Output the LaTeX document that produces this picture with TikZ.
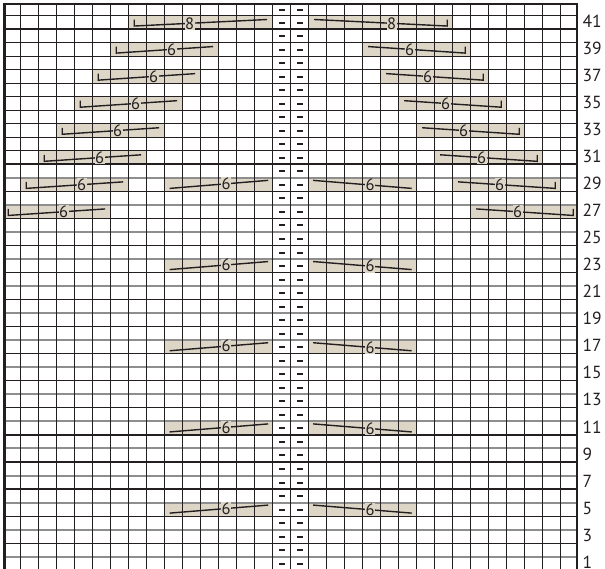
\documentclass[tikz,border=0pt]{standalone}
\usepackage{fontspec}
\setmainfont{PT Sans}
\definecolor{bar}{HTML}{DDD6C7}
\definecolor{gline}{HTML}{8E8E8E}
\definecolor{ink}{HTML}{231F20}
\begin{document}
\begin{tikzpicture}[x=1pt,y=-1pt,
  stitch/.style={draw=ink,line width=1.4pt,line cap=butt,line join=miter},
  numlab/.style={font=\fontsize{16.5}{16.5}\selectfont,fill=bar,inner sep=0.4pt,text=ink},
  rowlab/.style={font=\fontsize{17.5}{17.5}\selectfont,anchor=west,text=ink,inner sep=0pt},
  gridblk/.style={draw=ink,line width=1.15pt},
  gridgray/.style={draw=gline,line width=2pt},
  gridthick/.style={draw=ink,line width=2.2pt},
  border/.style={draw=ink,line width=2.4pt},
  purl/.style={fill=ink,draw=none}]
\useasboundingbox (0,0) rectangle (605,568);
\begin{scope}
\clip (0,0) rectangle (605,568);
% ---- bar fills
\foreach \r/\a/\b in {41/-9/-1,39/-10/-4,37/-11/-5,35/-12/-6,33/-13/-7,31/-14/-8,29/-15/-9,27/-16/-10,
                      41/1/9,39/4/10,37/5/11,35/6/12,33/7/13,31/8/14,29/9/15,27/10/16,
                      29/-7/-1,23/-7/-1,17/-7/-1,11/-7/-1,5/-7/-1,
                      29/1/7,23/1/7,17/1/7,11/1/7,5/1/7}{
  \pgfmathsetmacro\T{15.5+(41-\r)*13.53}
  \pgfmathsetmacro\B{\T+13.53}
  \pgfmathsetmacro\L{max(4.5,290.7+18*\a)}
  \pgfmathsetmacro\R{min(577,290.7+18*\b)}
  \fill[bar] (\L,\T) rectangle (\R,\B);
}
% ---- horizontal grid lines
\foreach \r in {1,...,41}{
  \pgfmathsetmacro\T{15.5+(41-\r)*13.53}
  \pgfmathtruncatemacro\isgray{(mod(\r,2)==1 && \r<30) ? 1 : 0}
  \ifnum\isgray=1
    \draw[gridgray] (4.5,\T) -- (577,\T);
  \else
    \draw[gridblk] (4.5,\T) -- (577,\T);
  \fi
}
\draw[gridthick] (4.5,29.03) -- (577,29.03);
\draw[gridthick] (4.5,164.3) -- (577,164.3);
% ---- vertical grid lines
\foreach \k in {-15,...,15}{
  \draw[gridblk] (290.7+18*\k,4) -- (290.7+18*\k,575);
}
% ---- borders
\draw[border] (4.5,3) -- (4.5,575);
\draw[border] (577,3) -- (577,575);
\draw[border] (3.3,4) -- (578.2,4);
% ---- purl dashes in the two centre columns
\foreach \r in {1,...,41}{
  \pgfmathsetmacro\C{15.5+(41-\r)*13.53+7}
  \fill[purl] (279.2,\C-1) rectangle (285,\C+1);
  \fill[purl] (297.2,\C-1) rectangle (303,\C+1);
}
\fill[purl] (279.2,8.5) rectangle (285,10.5);
\fill[purl] (297.2,8.5) rectangle (303,10.5);
% ---- left outer decreases (tick at left)
\foreach \r/\a/\b/\n in {41/-9/-1/8,39/-10/-4/6,37/-11/-5/6,35/-12/-6/6,33/-13/-7/6,31/-14/-8/6,29/-15/-9/6,27/-16/-10/6}{
  \pgfmathsetmacro\T{15.5+(41-\r)*13.53}
  \pgfmathsetmacro\B{\T+13.53}
  \pgfmathsetmacro\L{290.7+18*\a}
  \pgfmathsetmacro\R{290.7+18*\b}
  \pgfmathsetmacro\p{55.5/(\R-\L-11)}
  \coordinate (lt\r) at (\L+5.5,\B-9.5);
  \coordinate (ls\r) at (\L+5.5,\B-3);
  \coordinate (le\r) at (\R-5.5,\T+4);
  \draw[stitch] (lt\r) -- (ls\r) -- node[numlab,pos=\p] (ln\r) {\n} (le\r);
}
% ---- right outer decreases (tick at right)
\foreach \r/\a/\b/\n in {41/1/9/8,39/4/10/6,37/5/11/6,35/6/12/6,33/7/13/6,31/8/14/6,29/9/15/6,27/10/16/6}{
  \pgfmathsetmacro\T{15.5+(41-\r)*13.53}
  \pgfmathsetmacro\B{\T+13.53}
  \pgfmathsetmacro\L{290.7+18*\a}
  \pgfmathsetmacro\R{290.7+18*\b}
  \pgfmathsetmacro\p{(\R-\L-66.5)/(\R-\L-11)}
  \coordinate (rs\r) at (\L+5.5,\T+4);
  \coordinate (re\r) at (\R-5.5,\B-3);
  \coordinate (rt\r) at (\R-5.5,\B-9.5);
  \draw[stitch] (rs\r) -- node[numlab,pos=\p] (rn\r) {\n} (re\r) -- (rt\r);
}
% ---- inner decreases
\foreach \r in {29,23,17,11,5}{
  \pgfmathsetmacro\T{15.5+(41-\r)*13.53}
  \pgfmathsetmacro\B{\T+13.53}
  \coordinate (is\r) at (164.7+5,\B-3);
  \coordinate (ie\r) at (272.7-4.5,\T+2.5);
  \draw[stitch] (is\r) -- node[numlab,pos=0.574] (in\r) {6} (ie\r);
  \coordinate (js\r) at (308.7+4.5,\T+2.5);
  \coordinate (je\r) at (416.7-5,\B-3);
  \draw[stitch] (js\r) -- node[numlab,pos=0.579] (jn\r) {6} (je\r);
}
\end{scope}
% ---- row numbers
\foreach \r in {1,3,...,41}{
  \pgfmathsetmacro\C{15.5+(41-\r)*13.53+5.5}
  \node[rowlab] (row\r) at (582.5,\C) {\r};
}
\end{tikzpicture}
\end{document}
